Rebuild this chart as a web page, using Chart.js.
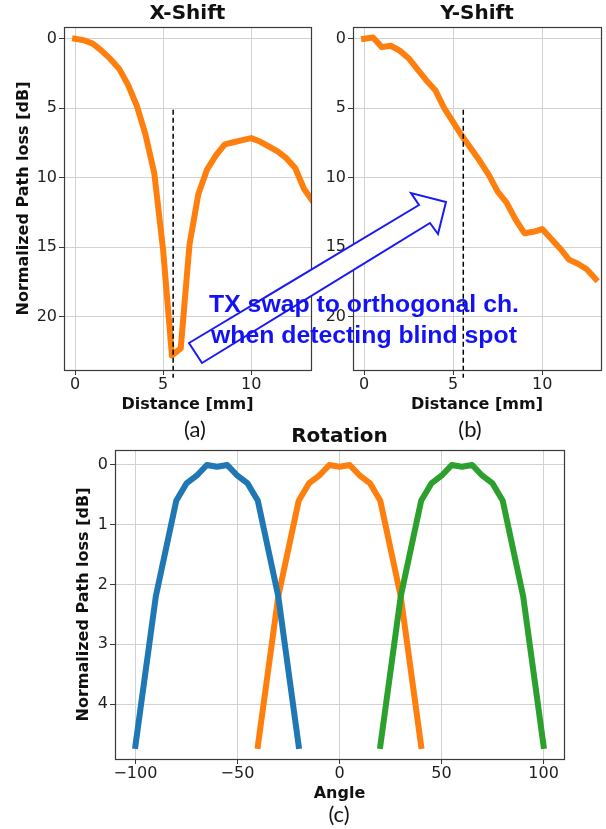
<!DOCTYPE html>
<html>
<head>
<meta charset="utf-8">
<script src="https://cdn.jsdelivr.net/npm/chart.js@4.4.0/dist/chart.umd.min.js"></script>
<style>
    html, body { margin: 0; padding: 0; background: #fff; }
    #page { position: relative; width: 606px; height: 829px; overflow: hidden; }
    .box { position: absolute; }
    .box canvas { display: block; }
    .caption {
        position: absolute;
        transform: translate(-50%, -50%);
        font-family: Lato, "Open Sans", sans-serif;
        font-size: 22px;
        line-height: 1;
        color: #141414;
    }
    #annotation { position: absolute; left: 0; top: 0; pointer-events: none; }
</style>
</head>
<body>
<div id="page">
    <div class="box" style="left:0;top:0;"><canvas id="xShiftChart" width="320" height="420"></canvas></div>
    <div class="box" style="left:300px;top:0;"><canvas id="yShiftChart" width="306" height="420"></canvas></div>
    <div class="box" style="left:0;top:420px;"><canvas id="rotationChart" width="606" height="409"></canvas></div>

    <div class="caption" style="left:195px;top:429px;">(a)</div>
    <div class="caption" style="left:470px;top:429px;">(b)</div>
    <div class="caption" style="left:339px;top:814px;">(c)</div>

    <svg id="annotation" width="606" height="829">
        <polygon points="189,343 419,205 411,193 446,202 438,234 430,223 202,363"
                 fill="#fff" stroke="#1a1af5" stroke-width="2"/>
        <text x="364" y="312" text-anchor="middle" font-family="Liberation Sans, Arial, sans-serif"
              font-weight="bold" font-size="24.8" fill="#1212f5">TX swap to orthogonal ch.</text>
        <text x="364" y="343" text-anchor="middle" font-family="Liberation Sans, Arial, sans-serif"
              font-weight="bold" font-size="24.8" fill="#1212f5">when detecting blind spot</text>
    </svg>
</div>

<script>
// X-Shift (a)
const xShiftDistance = [0, 0.5, 1, 1.5, 2, 2.5, 3, 3.5, 4, 4.5, 5, 5.5, 6, 6.5, 7, 7.5, 8, 8.5, 9, 9.5, 10, 10.5, 11, 11.5, 12, 12.5, 13, 13.5];
const xShiftLoss = [0, 0.1, 0.35, 0.85, 1.45, 2.15, 3.3, 4.8, 6.9, 9.7, 15.2, 22.8, 22.3, 14.8, 11.2, 9.4, 8.4, 7.6, 7.45, 7.3, 7.15, 7.4, 7.75, 8.1, 8.6, 9.3, 10.8, 11.7];

// Y-Shift (b)
const yShiftDistance = [0, 0.5, 1, 1.5, 2, 2.5, 3, 3.5, 4, 4.5, 5, 5.5, 6, 6.5, 7, 7.5, 8, 8.5, 9, 9.5, 10, 10.5, 11, 11.5, 12, 12.5, 13];
const yShiftLoss = [0, -0.1, 0.6, 0.5, 0.85, 1.4, 2.2, 3.0, 3.7, 5.0, 6.0, 7.0, 7.9, 8.8, 9.8, 11.0, 11.8, 13.0, 14.0, 13.9, 13.7, 14.4, 15.1, 15.9, 16.2, 16.6, 17.3];

// blind spot marker (dashed)
const blindSpotX = [5.57, 5.57];
const blindSpotLoss = [5.1, 24.4];

// Rotation (c)
const rotAngleBlue = [-100, -90, -80, -75, -70, -65, -60, -55, -50, -45, -40, -30, -20];
const rotLossBlue = [4.7, 2.2, 0.6, 0.31, 0.18, 0, 0.03, 0, 0.18, 0.31, 0.6, 2.2, 4.7];
const rotAngleOrange = [-40, -30, -20, -15, -10, -5, 0, 5, 10, 15, 20, 30, 40];
const rotLossOrange = [4.7, 2.2, 0.6, 0.31, 0.18, 0, 0.03, 0, 0.18, 0.31, 0.6, 2.2, 4.7];
const rotAngleGreen = [20, 30, 40, 45, 50, 55, 60, 65, 70, 75, 80, 90, 100];
const rotLossGreen = [4.7, 2.2, 0.6, 0.31, 0.18, 0, 0.03, 0, 0.18, 0.31, 0.6, 2.2, 4.7];

// Tick labels
const distanceTicks = [0, 5, 10];
const lossTicks = [0, 5, 10, 15, 20];
const angleTicks = [-100, -50, 0, 50, 100];
const rotLossTicks = [0, 1, 2, 3, 4];

const FONT = 'DejaVu Sans';
const GRID_COLOR = '#d2d2d2';
const AXIS_COLOR = '#3a3a3a';
const TEXT_COLOR = '#1e1e1e';

// Box around the plot area (matplotlib spines)
const framePlugin = {
    id: 'frame',
    afterDraw(chart) {
        const { ctx, chartArea: a } = chart;
        ctx.save();
        ctx.strokeStyle = AXIS_COLOR;
        ctx.lineWidth = 1.2;
        ctx.strokeRect(Math.round(a.left) + 0.5, Math.round(a.top) + 0.5,
            Math.round(a.right - a.left), Math.round(a.bottom - a.top));
        ctx.restore();
    }
};

function toPoints(xs, ys) {
    return xs.map((x, i) => ({ x: x, y: ys[i] }));
}

function curve(xs, ys, color, order, clip) {
    return {
        data: toPoints(xs, ys),
        borderColor: color,
        borderWidth: 6,
        borderCapStyle: 'square',
        borderJoinStyle: 'round',
        pointRadius: 0,
        tension: 0,
        order: order,
        clip: clip
    };
}

function dashedMarker() {
    return {
        data: toPoints(blindSpotX, blindSpotLoss),
        borderColor: '#000',
        borderWidth: 1.5,
        borderDash: [5, 3],
        pointRadius: 0,
        order: 0,
        clip: false
    };
}

function axisX(min, max, ticks, title) {
    return {
        type: 'linear',
        min: min,
        max: max,
        afterBuildTicks: axis => { axis.ticks = ticks.map(v => ({ value: v })); },
        afterFit: axis => { axis.height = 44; },
        grid: { color: GRID_COLOR, lineWidth: 1, tickLength: 5, tickColor: AXIS_COLOR },
        border: { display: false },
        ticks: {
            padding: 0,
            color: TEXT_COLOR,
            font: { family: FONT, size: 16 },
            maxRotation: 0,
            callback: v => String(v).replace('-', '\u2212')
        },
        title: {
            display: true,
            text: title,
            color: '#111',
            padding: 0,
            font: { family: FONT, size: 16, weight: 'bold' }
        }
    };
}

function axisY(min, max, ticks, width, title) {
    return {
        type: 'linear',
        reverse: true,
        min: min,
        max: max,
        afterBuildTicks: axis => { axis.ticks = ticks.map(v => ({ value: v })); },
        afterFit: axis => { axis.width = width; },
        grid: { color: GRID_COLOR, lineWidth: 1, tickLength: 5, tickColor: AXIS_COLOR },
        border: { display: false },
        ticks: {
            padding: 2,
            color: TEXT_COLOR,
            font: { family: FONT, size: 16 }
        },
        title: {
            display: !!title,
            text: title || '',
            color: '#111',
            padding: 0,
            font: { family: FONT, size: 16, weight: 'bold' }
        }
    };
}

function chartTitle(text, padTop, padBottom) {
    return {
        display: true,
        text: text,
        fullSize: false,
        color: '#111',
        padding: { top: padTop, bottom: padBottom },
        font: { family: FONT, size: 20, weight: 'bold' }
    };
}

const baseOptions = {
    responsive: false,
    animation: false,
    events: []
};

// X-Shift chart
new Chart(document.getElementById('xShiftChart'), {
    type: 'line',
    data: {
        datasets: [
            dashedMarker(),
            curve(xShiftDistance, xShiftLoss, '#ff7f0e', 1, 0)
        ]
    },
    options: {
        ...baseOptions,
        layout: { padding: { left: 14, right: 9, top: 0, bottom: 6 } },
        scales: {
            x: axisX(-0.63, 13.4, distanceTicks, 'Distance [mm]'),
            y: axisY(-0.85, 23.85, lossTicks, 50, 'Normalized Path loss [dB]')
        },
        plugins: {
            legend: { display: false },
            tooltip: { enabled: false },
            title: chartTitle('X-Shift', 2, 1)
        }
    },
    plugins: [framePlugin]
});

// Y-Shift chart
new Chart(document.getElementById('yShiftChart'), {
    type: 'line',
    data: {
        datasets: [
            dashedMarker(),
            curve(yShiftDistance, yShiftLoss, '#ff7f0e', 1, 0)
        ]
    },
    options: {
        ...baseOptions,
        layout: { padding: { left: 0, right: 5, top: 0, bottom: 6 } },
        scales: {
            x: axisX(-0.62, 13.3, distanceTicks, 'Distance [mm]'),
            y: axisY(-0.85, 23.85, lossTicks, 53, '')
        },
        plugins: {
            legend: { display: false },
            tooltip: { enabled: false },
            title: chartTitle('Y-Shift', 2, 1)
        }
    },
    plugins: [framePlugin]
});

// Rotation chart
new Chart(document.getElementById('rotationChart'), {
    type: 'line',
    data: {
        datasets: [
            curve(rotAngleBlue, rotLossBlue, '#1f77b4', 1, false),
            curve(rotAngleOrange, rotLossOrange, '#ff7f0e', 2, false),
            curve(rotAngleGreen, rotLossGreen, '#2ca02c', 0, false)
        ]
    },
    options: {
        ...baseOptions,
        layout: { padding: { left: 74, right: 42, top: 0, bottom: 26 } },
        scales: {
            x: axisX(-110, 110, angleTicks, 'Angle'),
            y: axisY(-0.25, 4.92, rotLossTicks, 41, 'Normalized Path loss [dB]')
        },
        plugins: {
            legend: { display: false },
            tooltip: { enabled: false },
            title: chartTitle('Rotation', 5, 1)
        }
    },
    plugins: [framePlugin]
});
</script>
</body>
</html>
